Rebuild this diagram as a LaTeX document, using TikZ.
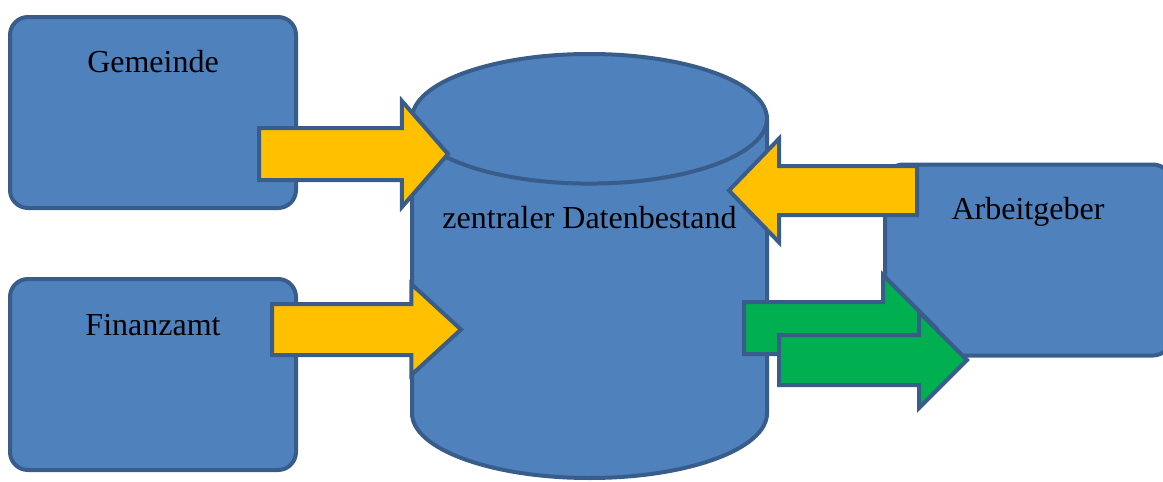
\documentclass[tikz,border=0pt]{standalone}
\usepackage{fontspec}
\setmainfont{Liberation Serif}
\usetikzlibrary{shapes.geometric,shapes.arrows}
\definecolor{boxblue}{HTML}{4F81BD}
\definecolor{edgeblue}{HTML}{385D8A}
\definecolor{flowyellow}{HTML}{FFC000}
\definecolor{flowgreen}{HTML}{00B050}
\begin{document}
\begin{tikzpicture}[x=1pt,y=-1pt]
      \tikzstyle{box} = [rectangle, rounded corners=18pt, draw=edgeblue, fill=boxblue, line width=4pt, minimum width=286pt, minimum height=191pt, outer sep=0pt]
      \tikzstyle{txt} = [anchor=base, inner sep=0pt, font=\fontsize{32}{38}\selectfont]
      \tikzstyle{flow} = [single arrow, draw=edgeblue, line width=4pt, inner sep=0pt, minimum width=0pt, outer sep=0pt, anchor=tail]
      \useasboundingbox (0,0) rectangle (1163,482);
      % sources
      \node (gem) [box] at (153,112.5) {};
      \node (fin) [box] at (153,374.5) {};
      % database
      \node (db) [cylinder, shape border rotate=90, aspect=0.365, draw=edgeblue, fill=boxblue, line width=4pt, inner xsep=177.5pt, inner ysep=0pt, minimum height=424pt, outer sep=0pt, anchor=south] at (589.5,478) {};
      % employer
      \node (arb) [box] at (1028,260) {};
      % texts
      \node (gemtxt) [txt] at ([yshift=-55pt]gem.north) {Gemeinde};
      \node (fintxt) [txt] at ([yshift=-56pt]fin.north) {Finanzamt};
      \node (dbtxt) [txt] at ([yshift=250pt]db.south) {zentraler Datenbestand};
      \node (arbtxt) [txt] at ([yshift=-55pt]arb.north) {Arbeitgeber};
      % arrows into the database
      \node (gemflow) [flow, fill=flowyellow, inner ysep=24pt, single arrow head extend=27pt, minimum height=189pt, single arrow tip angle=98] at (259,154) {};
      \node (finflow) [flow, fill=flowyellow, inner ysep=23.5pt, single arrow head extend=20pt, minimum height=189pt, single arrow tip angle=85] at (272,329.5) {};
      \node (arbflow) [flow, fill=flowyellow, inner ysep=22.5pt, single arrow head extend=27.5pt, minimum height=188pt, single arrow tip angle=92, shape border rotate=180] at (917,190.5) {};
      % arrows out of the database
      \node (outflow1) [flow, fill=flowgreen, inner ysep=24pt, single arrow head extend=27pt, minimum height=192pt, single arrow tip angle=90] at (744,328) {};
      \node (outflow2) [flow, fill=flowgreen, inner ysep=23pt, single arrow head extend=23pt, minimum height=188pt, single arrow tip angle=90] at (779,360) {};
\end{tikzpicture}
\end{document}
